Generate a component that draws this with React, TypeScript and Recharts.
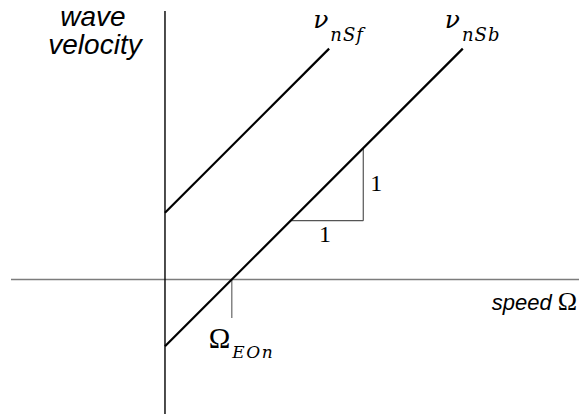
import React from 'react';
import { LineChart, Line, XAxis, YAxis, ReferenceLine, ReferenceDot } from 'recharts';

// Electro-optic speed where the backward branch crosses zero velocity
const omegaEOn = 0.92;

// Wave velocity branches (unit slope against speed)
const nSf = [
  { x: 0, y: 0.92 },
  { x: 2.26, y: 3.18 },
];
const nSb = [
  { x: 0, y: -0.92 },
  { x: 4.1, y: 3.18 },
];

// Unit slope triangle under the ν_nSb branch
const slopeRun = [
  { x: 1.73, y: 0.81 },
  { x: 2.73, y: 0.81 },
];
const slopeRise = [
  { x: 2.73, y: 0.81 },
  { x: 2.73, y: 1.81 },
];
const slopeLabels = ['1', '1'];

// Marker dropping from the speed axis at Ω_EOn
const omegaTick = [
  { x: omegaEOn, y: 0 },
  { x: omegaEOn, y: -0.53 },
];

// Text
const yAxisTitle = ['wave', 'velocity'];
const xAxisTitle = ['speed', 'Ω'];
const branchNames = ['nSf', 'nSb'];
const omegaSub = 'EOn';

// Visible window of the speed / velocity plane
const X_DOMAIN: [number, number] = [-2.12, 5.7];
const Y_DOMAIN: [number, number] = [-1.853, 3.698];

const SERIF = "'Liberation Serif', 'Times New Roman', serif";
const MATH = "'DejaVu Serif', 'Liberation Serif', serif";
const SANS = "'Liberation Sans', Arial, sans-serif";

const mid = (pts: { x: number; y: number }[]) => ({
  x: (pts[0].x + pts[1].x) / 2,
  y: (pts[0].y + pts[1].y) / 2,
});

const branchLabel = (name: string, dx: number) => (p: any) => (
  <text x={p.cx + dx} y={p.cy - 21} fontFamily={MATH} fill="#000">
    <tspan fontSize={25} fontStyle="italic">ν</tspan>
    <tspan fontSize={18} fontStyle="italic" letterSpacing={1} dx={2} dy={13}>
      {name}
    </tspan>
  </text>
);

export default function App() {
  const runMid = mid(slopeRun);
  const riseMid = mid(slopeRise);
  const fEnd = nSf[nSf.length - 1];
  const bEnd = nSb[nSb.length - 1];
  const tickEnd = omegaTick[1];

  return (
    <div style={{ position: 'absolute', left: 0, top: 0, background: '#fff' }}>
      <LineChart width={579} height={414} margin={{ top: 11, right: 0, bottom: 0, left: 11 }}>
        <XAxis type="number" dataKey="x" domain={X_DOMAIN} allowDataOverflow hide />
        <YAxis type="number" dataKey="y" domain={Y_DOMAIN} allowDataOverflow hide />

        {/* axes through the origin */}
        <ReferenceLine y={0} stroke="#7c7c7c" strokeWidth={1.6} ifOverflow="visible" />
        <ReferenceLine x={0} stroke="#000" strokeWidth={1.4} ifOverflow="visible" />

        {/* slope triangle and Ω_EOn marker */}
        <ReferenceLine segment={slopeRun} stroke="#555" strokeWidth={1.2} ifOverflow="visible" />
        <ReferenceLine segment={slopeRise} stroke="#555" strokeWidth={1.2} ifOverflow="visible" />
        <ReferenceLine segment={omegaTick} stroke="#666" strokeWidth={1.2} ifOverflow="visible" />

        <Line data={nSf} dataKey="y" stroke="#000" strokeWidth={2.2} dot={false} activeDot={false} isAnimationActive={false} />
        <Line data={nSb} dataKey="y" stroke="#000" strokeWidth={2.2} dot={false} activeDot={false} isAnimationActive={false} />

        {/* branch names at the line ends */}
        <ReferenceDot x={fEnd.x} y={fEnd.y} r={0} ifOverflow="visible" shape={branchLabel(branchNames[0], -16)} />
        <ReferenceDot x={bEnd.x} y={bEnd.y} r={0} ifOverflow="visible" shape={branchLabel(branchNames[1], -18)} />

        {/* slope annotations */}
        <ReferenceDot
          x={runMid.x}
          y={runMid.y}
          r={0}
          ifOverflow="visible"
          shape={(p: any) => (
            <text x={p.cx - 2} y={p.cy + 21} textAnchor="middle" fontFamily={SERIF} fontSize={24} fill="#000">
              {slopeLabels[0]}
            </text>
          )}
        />
        <ReferenceDot
          x={riseMid.x}
          y={riseMid.y}
          r={0}
          ifOverflow="visible"
          shape={(p: any) => (
            <text x={p.cx + 13} y={p.cy + 7} textAnchor="middle" fontFamily={SERIF} fontSize={24} fill="#000">
              {slopeLabels[1]}
            </text>
          )}
        />

        {/* Ω_EOn */}
        <ReferenceDot
          x={tickEnd.x}
          y={tickEnd.y}
          r={0}
          ifOverflow="visible"
          shape={(p: any) => (
            <text x={p.cx - 23} y={p.cy + 30} fill="#000">
              <tspan fontFamily={SERIF} fontSize={29}>Ω</tspan>
              <tspan fontFamily={MATH} fontSize={17} fontStyle="italic" letterSpacing={1.5} dx={2} dy={10}>
                {omegaSub}
              </tspan>
            </text>
          )}
        />

        {/* axis titles */}
        <ReferenceDot
          x={0}
          y={Y_DOMAIN[1]}
          r={0}
          ifOverflow="visible"
          shape={(p: any) => (
            <text textAnchor="middle" fontFamily={SANS} fontStyle="italic" fontSize={28} fill="#000">
              <tspan x={p.cx - 72} y={p.cy + 15}>
                {yAxisTitle[0]}
              </tspan>
              <tspan x={p.cx - 70} y={p.cy + 43}>
                {yAxisTitle[1]}
              </tspan>
            </text>
          )}
        />
        <ReferenceDot
          x={X_DOMAIN[1]}
          y={0}
          r={0}
          ifOverflow="visible"
          shape={(p: any) => (
            <text x={p.cx - 2} y={p.cy + 31} textAnchor="end" fill="#000">
              <tspan fontFamily={SANS} fontStyle="italic" fontSize={22}>
                {xAxisTitle[0]}
              </tspan>
              <tspan fontFamily={SERIF} fontSize={26} dx={6}>
                {xAxisTitle[1]}
              </tspan>
            </text>
          )}
        />
      </LineChart>
    </div>
  );
}
